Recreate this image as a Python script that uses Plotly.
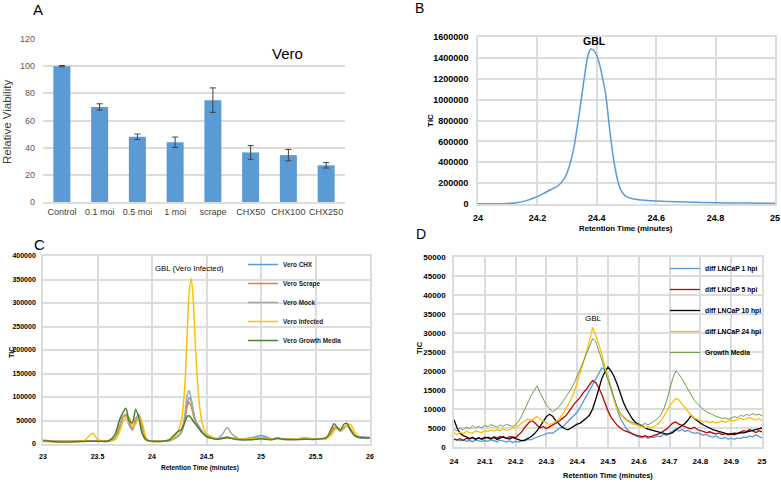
import plotly.graph_objects as go

# ---- Panel A: relative viability of Vero cells
a_cats = ['Control', '0.1 moi', '0.5 moi', '1 moi', 'scrape', 'CHX50', 'CHX100', 'CHX250']
a_vals = [100, 70, 48, 44, 75, 36.5, 34.5, 27]
a_errs = [0.5, 2.3, 2, 3.8, 9, 5, 4.2, 2]

# ---- Panel B: GBL standard chromatogram
b_x = [24.0, 24.05, 24.1, 24.13, 24.16, 24.19, 24.22, 24.25, 24.27, 24.29, 24.3, 24.32, 24.34,
       24.35, 24.36, 24.37, 24.38, 24.39, 24.4, 24.41, 24.42, 24.43, 24.44, 24.45, 24.46, 24.47,
       24.48, 24.49, 24.5, 24.52, 24.55, 24.6, 24.7, 24.8, 24.9, 25.0]
b_tic = [2000, 2000, 5000, 12000, 30000, 60000, 100000, 145000, 175000, 240000, 300000, 500000, 850000,
         1050000, 1250000, 1420000, 1485000, 1470000, 1420000, 1330000, 1200000, 1050000, 800000, 560000,
         370000, 230000, 140000, 95000, 70000, 50000, 38000, 28000, 18000, 12000, 9000, 7000]

# ---- Panel C: Vero samples
c_x = [23.0, 23.1, 23.2, 23.3, 23.38, 23.42, 23.46, 23.5, 23.6, 23.66, 23.7, 23.73, 23.76, 23.79,
       23.82, 23.85, 23.88, 23.91, 23.95, 24.0, 24.1, 24.16, 24.2, 24.24, 24.27, 24.3, 24.32, 24.34,
       24.36, 24.38, 24.4, 24.43, 24.46, 24.5, 24.55, 24.6, 24.65, 24.69, 24.73, 24.8, 24.9, 24.95,
       25.0, 25.05, 25.1, 25.15, 25.2, 25.3, 25.4, 25.5, 25.6, 25.64, 25.67, 25.7, 25.73, 25.76,
       25.79, 25.82, 25.86, 25.9, 26.0]
c_chx = [8000, 6000, 5500, 6000, 6500, 6500, 6500, 6500, 7000, 12000, 35000, 55000, 63000, 48000,
         30000, 50000, 62000, 38000, 10000, 6000, 6000, 7000, 11000, 17000, 25000, 50000, 80000, 98000,
         92000, 70000, 50000, 38000, 27000, 18000, 13000, 11000, 13000, 15000, 13000, 11000, 13000, 15000,
         18000, 15000, 11000, 12000, 11000, 10000, 13000, 10000, 12000, 22000, 33000, 35000, 28000, 35000,
         38000, 30000, 18000, 16000, 14000]
c_scrape = [7500, 6500, 6000, 6000, 6500, 6500, 6500, 6500, 7000, 11000, 33000, 55000, 62000, 45000,
            30000, 48000, 60000, 35000, 9000, 6000, 6000, 7000, 11000, 17000, 26000, 52000, 78000, 89000,
            80000, 60000, 45000, 36000, 26000, 17000, 12000, 10000, 12000, 14000, 12000, 10000, 11000, 12000,
            13000, 12000, 10000, 12000, 10000, 10000, 11000, 10000, 12000, 22000, 32000, 33000, 28000, 34000,
            40000, 33000, 18000, 14000, 13000]
c_mock = [7000, 6000, 5500, 5500, 6000, 6000, 6000, 6000, 6500, 13000, 38000, 58000, 60000, 40000,
          30000, 55000, 58000, 30000, 9000, 6000, 6000, 7000, 11000, 18000, 28000, 60000, 100000, 114000,
          95000, 65000, 48000, 37000, 25000, 17000, 12000, 11000, 22000, 35000, 22000, 11000, 12000, 13000,
          14000, 12000, 10000, 12000, 10000, 10000, 12000, 10000, 12000, 25000, 36000, 32000, 27000, 36000,
          38000, 30000, 17000, 14000, 13000]
c_infected = [6000, 5000, 4500, 5000, 7000, 17000, 23000, 10000, 5500, 9000, 25000, 45000, 55000, 57000,
              38000, 42000, 60000, 45000, 12000, 6000, 6000, 8000, 14000, 28000, 50000, 120000, 220000, 320000,
              352000, 300000, 200000, 95000, 45000, 22000, 15000, 12000, 12000, 14000, 13000, 10000, 11000, 12000,
              13000, 12000, 10000, 11000, 10000, 10000, 11000, 10000, 11000, 18000, 28000, 35000, 30000, 32000,
              40000, 42000, 25000, 15000, 13000]
c_media = [7000, 5000, 4500, 5000, 5500, 6000, 6000, 6000, 6500, 20000, 50000, 65000, 76000, 50000,
           45000, 74000, 55000, 22000, 8000, 6000, 6000, 9000, 18000, 27000, 31000, 45000, 58000, 60000,
           55000, 48000, 42000, 33000, 24000, 16000, 12000, 10000, 12000, 14000, 12000, 9000, 9000, 10000,
           11000, 10000, 9000, 12000, 10000, 9000, 10000, 10000, 14000, 30000, 43000, 35000, 30000, 42000,
           44000, 30000, 18000, 14000, 13000]

# ---- Panel D: differentiated LNCaP, sampled every 0.01 min
d_x = [round(24 + i * 0.01, 2) for i in range(101)]
d_1h = [2200, 1800, 1600, 1900, 1500, 1700, 1400, 1800, 1600, 1500,
        1700, 1500, 1900, 1600, 1400, 1800, 1500, 1300, 1600, 1200,
        1500, 1300, 1800, 1600, 2000, 1900, 2300, 2600, 2800, 3100,
        3400, 3800, 3600, 4200, 4800, 5100, 5900, 6800, 7500, 8300,
        9200, 10500, 12000, 13500, 15200, 16400, 18000, 19500, 20800, 20300,
        18500, 15500, 12500, 9800, 7500, 6100, 4800, 4000, 3400, 2900,
        2600, 2400, 2800, 2300, 2600, 2500, 2900, 2700, 3300, 3100,
        3600, 4300, 4800, 4200, 4600, 4100, 4400, 3900, 3600, 3800,
        3400, 3100, 3300, 2800, 2600, 2900, 2400, 2200, 2500, 2100,
        2300, 2000, 2400, 2200, 2600, 2500, 2900, 2600, 3200, 2700, 2400]
d_5h = [2000, 1800, 2200, 1700, 2300, 2100, 2500, 2000, 2400, 2200,
        2600, 2300, 2100, 2700, 2400, 2800, 2500, 2300, 2700, 2600,
        2500, 3200, 4000, 5200, 6200, 7000, 6500, 5800, 5000, 5400,
        4800, 5300, 5700, 6200, 6700, 7400, 8000, 9000, 10200, 11300,
        12200, 13100, 14300, 15200, 16400, 17500, 17000, 15600, 13800, 11500,
        9500, 7800, 6600, 5700, 5000, 4400, 4100, 3700, 3400, 3100,
        2900, 2700, 3000, 2600, 2800, 3000, 3300, 3700, 4200, 4700,
        5500, 6300, 6600, 6000, 5700, 5300, 5000, 4800, 5200, 4600,
        4400, 4100, 3800, 4000, 3600, 3400, 3700, 3300, 3500, 3200,
        3400, 3700, 3500, 3900, 4300, 4100, 4600, 4200, 3800, 4300, 4000]
d_10h = [7200, 5000, 3600, 3000, 2700, 2200, 2500, 2100, 2400, 2000,
         2300, 2600, 2200, 2500, 2000, 2400, 2700, 2300, 2100, 2500,
         2200, 1900, 1600, 1800, 2200, 2700, 3400, 4300, 5500, 6800,
         8000, 8600, 8100, 7000, 6100, 5300, 4800, 4500, 5000, 5600,
         6000, 6300, 6900, 7600, 8400, 10000, 12500, 15500, 18000, 19800,
         21000, 20000, 18500, 16500, 14000, 11800, 10000, 8500, 7300, 6400,
         5900, 5400, 5100, 4700, 4500, 4300, 4000, 3700, 3600, 3400,
         3500, 3800, 4500, 5000, 5600, 6200, 7100, 8300, 7500, 6800,
         6300, 5800, 5300, 5000, 4600, 4400, 4100, 3800, 3600, 3400,
         3500, 3300, 3600, 3800, 3700, 4000, 4200, 4400, 4600, 4900, 5000]
d_24h = [3700, 3300, 3900, 3500, 4100, 3800, 3600, 4200, 4000, 3800,
         4300, 4100, 4500, 4200, 4600, 4300, 4800, 4400, 4600, 4900,
         5100, 5600, 6300, 6900, 7400, 7000, 7600, 8000, 7300, 6800,
         6300, 5900, 6200, 6600, 7200, 8300, 9500, 11000, 12600, 14500,
         17000, 19500, 22000, 25000, 28000, 31500, 29500, 27000, 24500, 21000,
         18000, 15000, 12200, 10000, 8500, 7600, 7000, 6500, 6100, 5800,
         5500, 5300, 5100, 5300, 5000, 5400, 5900, 6700, 7800, 9200,
         10800, 11900, 12800, 12400, 11300, 10200, 9100, 8300, 7600, 7200,
         6900, 6600, 6800, 6400, 6700, 6300, 6600, 6900, 6500, 6800,
         7100, 6900, 7300, 7600, 7200, 7500, 7800, 7400, 7100, 7500, 7000]
d_media = [4600, 4200, 5000, 4500, 5300, 4800, 5600, 5100, 5400, 5000,
           5700, 5300, 5900, 5500, 5200, 5800, 5400, 6000, 5600, 5400,
           5800, 6800, 8200, 10000, 11800, 13500, 14800, 16100, 14200, 12500,
           11000, 10200, 9300, 9800, 10500, 11600, 12800, 14000, 15200, 16800,
           18500, 20500, 22500, 24500, 26500, 28500, 27800, 25500, 23000, 20000,
           17500, 15000, 12500, 10500, 9000, 8000, 7200, 6800, 6400, 6100,
           6000, 5700, 6200, 5800, 6300, 6800, 7400, 8300, 9800, 12000,
           15000, 18000, 20000, 19200, 18000, 16500, 15000, 13500, 12300, 11400,
           10500, 9800, 9300, 8800, 8500, 8100, 7800, 7500, 7700, 7300,
           7600, 8000, 7700, 8300, 8100, 8600, 8300, 8800, 8400, 8600, 8200]

W, H = 781, 482
FONT = 'Liberation Sans, Arial'
GRID = '#DCDCDC'


def px(x0, x1):
    return [x0 / W, x1 / W]


def py(top, bottom):
    return [1 - bottom / H, 1 - top / H]


fig = go.Figure()

# A
fig.add_trace(go.Bar(
    x=a_cats, y=a_vals, marker_color='#5B9BD5', showlegend=False,
    error_y=dict(type='data', array=a_errs, color='#404040', thickness=1, width=3),
    xaxis='x', yaxis='y'
))

# B
fig.add_trace(go.Scatter(
    x=b_x, y=b_tic, mode='lines', line=dict(color='#5B9BD5', width=1.5, shape='spline', smoothing=0.8),
    showlegend=False, xaxis='x2', yaxis='y2'
))

# C
c_series = [
    ('Vero CHX', c_chx, '#5B9BD5'),
    ('Vero Scrape', c_scrape, '#ED7D31'),
    ('Vero Mock', c_mock, '#A5A5A5'),
    ('Vero Infected', c_infected, '#FFC000'),
    ('Vero Growth Media', c_media, '#4E7F2E'),
]
for name, vals, col in c_series:
    fig.add_trace(go.Scatter(
        x=c_x, y=vals, mode='lines', name=name, legendgroup=name, legend='legend',
        line=dict(color=col, width=1.5, shape='spline', smoothing=0.8),
        xaxis='x3', yaxis='y3'
    ))

# D
d_series = [
    ('diff LNCaP 1 hpi', d_1h, '#5B9BD5', 1.3),
    ('diff LNCaP 5 hpi', d_5h, '#C00000', 1.3),
    ('diff LNCaP 10 hpi', d_10h, '#000000', 1.3),
    ('diff LNCaP 24 hpi', d_24h, '#FFC000', 1.3),
    ('Growth Media', d_media, '#62903F', 0.9),
]
for name, vals, col, w in d_series:
    fig.add_trace(go.Scatter(
        x=d_x, y=vals, mode='lines', name=name, legendgroup=name, legend='legend2',
        line=dict(color=col, width=w),
        xaxis='x4', yaxis='y4'
    ))

bold_tick = dict(family=FONT, size=8, color='black', weight='bold')
common = dict(showgrid=True, gridcolor=GRID, gridwidth=1.6, zeroline=False, automargin=False, ticks='', ticklen=0)
boxed = dict(common, showline=True, mirror=True, linecolor=GRID, linewidth=1.6)

fig.update_layout(
    template='none',
    width=W, height=H,
    margin=dict(l=0, r=0, t=0, b=0, autoexpand=False),
    paper_bgcolor='white', plot_bgcolor='white',
    font=dict(family=FONT, color='black'),
    bargap=0.55,
    xaxis=dict(common, domain=px(43, 345), anchor='y', showgrid=False, showline=True, linecolor=GRID,
               linewidth=1.6, tickfont=dict(family=FONT, size=9, color='#404040')),
    yaxis=dict(common, domain=py(39, 202), anchor='x', range=[0, 120], dtick=20, ticklabelstandoff=7,
               tickfont=dict(family=FONT, size=9, color='#595959')),
    xaxis2=dict(boxed, domain=px(478, 775), anchor='y2', range=[24, 25], dtick=0.2, ticklabelstandoff=4,
                tickfont=dict(bold_tick, size=9)),
    yaxis2=dict(boxed, domain=py(37, 204), anchor='x2', range=[0, 1600000], dtick=200000, tickformat='d',
                ticklabelstandoff=6, tickfont=dict(bold_tick, size=9)),
    xaxis3=dict(boxed, domain=px(43, 370), anchor='y3', range=[23, 26], dtick=0.5, ticklabelstandoff=5,
                tickfont=dict(bold_tick, size=7)),
    yaxis3=dict(boxed, domain=py(256, 444), anchor='x3', range=[0, 400000], dtick=50000, tickformat='d',
                ticklabelstandoff=4, tickfont=dict(bold_tick, size=7)),
    xaxis4=dict(boxed, domain=px(454, 762), anchor='y4', range=[24, 25], dtick=0.1, ticklabelstandoff=6,
                tickfont=dict(bold_tick, size=8)),
    yaxis4=dict(boxed, domain=py(257, 447), anchor='x4', range=[0, 50000], dtick=5000, tickformat='d',
                ticklabelstandoff=5, tickfont=dict(bold_tick, size=8)),
    legend=dict(x=243 / W, y=1 - 250 / H, xanchor='left', yanchor='top', bgcolor='rgba(0,0,0,0)',
                font=dict(family=FONT, size=6.4, color='#222222', weight='bold'), tracegroupgap=0),
    legend2=dict(x=665 / W, y=1 - 254 / H, xanchor='left', yanchor='top', bgcolor='rgba(0,0,0,0)',
                 font=dict(family=FONT, size=6.8, color='black', weight='bold'), tracegroupgap=2),
)


def note(text, x, y, size, bold=False, angle=0, color='black'):
    fig.add_annotation(text=text, x=x / W, y=1 - y / H, xref='paper', yref='paper',
                       showarrow=False, textangle=angle, xanchor='center', yanchor='middle',
                       font=dict(family=FONT, size=size, color=color, weight='bold' if bold else 'normal'))


note('A', 38, 9, 15)
note('Vero', 287, 53, 15)
note('Relative Viability', 7, 122, 11.5, angle=-90, color='#404040')
note('B', 419, 8, 14)
note('GBL', 594, 41, 10.5, bold=True)
note('TIC', 430, 120, 8, bold=True, angle=-90)
note('Retention Time (minutes)', 626, 228, 7.8, bold=True)
note('C', 39, 244, 15)
note('GBL (Vero Infected)', 189, 268, 7.8)
note('TIC', 11, 353, 7, bold=True, angle=-90)
note('Retention Time (minutes)', 200, 468, 6.5, bold=True)
note('D', 421, 234, 14)
note('GBL', 593, 318, 8)
note('TIC', 419, 348, 7.5, bold=True, angle=-90)
note('Retention Time (minutes)', 608, 475, 7.5, bold=True)

# the page body has a default 8px margin; drop it so the figure sits at the window corner
fig.write_html('out.html', config={'displayModeBar': False},
               post_script="document.body.style.margin='0';")
